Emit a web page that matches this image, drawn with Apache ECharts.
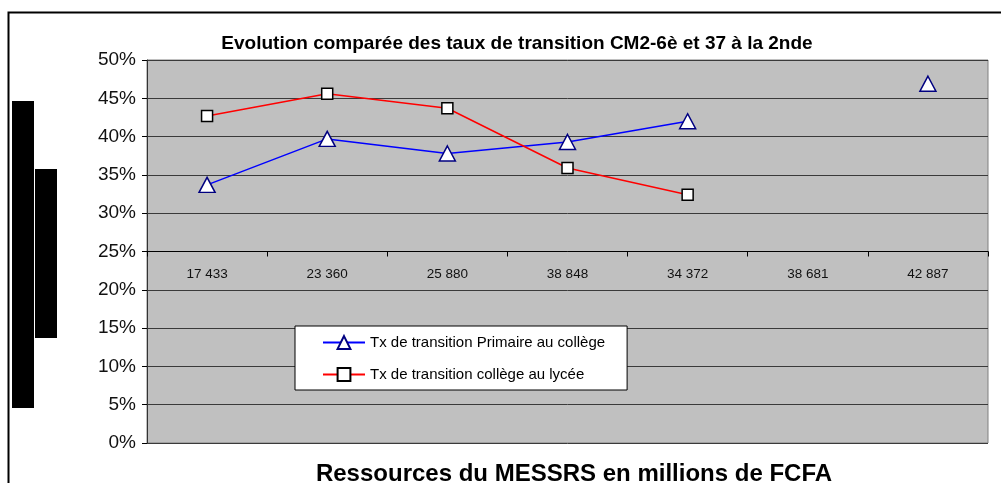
<!DOCTYPE html>
<html>
<head>
<meta charset="utf-8">
<script src="https://cdn.jsdelivr.net/npm/echarts@6/dist/echarts.min.js"></script>
<style>
  html, body { margin: 0; padding: 0; background: #fff; }
  #chart { width: 1001px; height: 483px; }
</style>
</head>
<body>
<div id="chart"></div>
<script>
var categories = ['17 433', '23 360', '25 880', '38 848', '34 372', '38 681', '42 887'];
// taux en %
var primaireCollege = [33.7, 39.7, 37.8, 39.3, 42.0, null, 46.9];
var collegeLycee = [42.7, 45.6, 43.7, 35.9, 32.4, null, null];
var yTicks = { min: 0, max: 50, interval: 5 };

var font = '"Liberation Sans", Arial, sans-serif';
var myChart = echarts.init(document.getElementById('chart'));

var option = {
    backgroundColor: '#fff',
    animation: false,
    title: [{
        text: 'Evolution comparée des taux de transition CM2-6è et 37 à la 2nde',
        left: 512,
        textAlign: 'center',
        top: 29,
        textStyle: { fontFamily: font, fontSize: 19, fontWeight: 'bold', color: '#000' }
    }, {
        text: 'Ressources du MESSRS en millions de FCFA',
        left: 569,
        textAlign: 'center',
        top: 457,
        textStyle: { fontFamily: font, fontSize: 24, fontWeight: 'bold', color: '#000' }
    }],
    graphic: [
        // cadre extérieur
        { type: 'rect', shape: { x: 8.5, y: 12.5, width: 1100, height: 600 },
          style: { fill: 'none', stroke: '#000', lineWidth: 2 }, silent: true },
        // bandes noires à gauche
        { type: 'rect', shape: { x: 12, y: 101, width: 22, height: 307 }, style: { fill: '#000' } },
        { type: 'rect', shape: { x: 35, y: 169, width: 22, height: 169 }, style: { fill: '#000' } }
    ],
    grid: {
        left: 147,
        right: 13,
        top: 60,
        bottom: 40,
        show: true,
        backgroundColor: '#C0C0C0',
        borderColor: '#808080',
        borderWidth: 1
    },
    legend: {
        orient: 'vertical',
        left: 295,
        top: 326,
        padding: [9, 22, 8, 27],
        itemGap: 17,
        itemWidth: 42,
        itemHeight: 16,
        backgroundColor: '#fff',
        borderColor: '#000',
        borderWidth: 1,
        textStyle: { fontFamily: font, fontSize: 15, color: '#000' },
        data: ['Tx de transition Primaire au collège', 'Tx de transition collège au lycée']
    },
    xAxis: {
        type: 'category',
        data: categories,
        position: 'bottom',
        offset: -191.5,
        axisLine: { lineStyle: { color: '#000', width: 1 } },
        axisTick: { show: true, length: 5, lineStyle: { color: '#000' } },
        axisLabel: { margin: 16, fontFamily: font, fontSize: 13.5, color: '#111' },
        splitLine: { show: false }
    },
    yAxis: {
        type: 'value',
        min: yTicks.min,
        max: yTicks.max,
        interval: yTicks.interval,
        axisLine: { show: true, lineStyle: { color: '#333', width: 1 } },
        axisTick: { show: true, length: 5, lineStyle: { color: '#000' } },
        axisLabel: { formatter: '{value}%', margin: 11, fontFamily: font, fontSize: 19, color: '#111' },
        splitLine: { lineStyle: { color: '#3a3a3a', width: 1 } }
    },
    series: [{
        name: 'Tx de transition Primaire au collège',
        type: 'line',
        data: primaireCollege,
        symbol: 'triangle',
        symbolSize: [16, 15],
        showAllSymbol: true,
        lineStyle: { color: '#0000FF', width: 1.5 },
        itemStyle: { color: '#fff', borderColor: '#000080', borderWidth: 1.5 }
    }, {
        name: 'Tx de transition collège au lycée',
        type: 'line',
        data: collegeLycee,
        symbol: 'rect',
        symbolSize: 11,
        showAllSymbol: true,
        lineStyle: { color: '#FF0000', width: 1.5 },
        itemStyle: { color: '#fff', borderColor: '#000', borderWidth: 1.5 }
    }]
};

myChart.setOption(option);
</script>
</body>
</html>
